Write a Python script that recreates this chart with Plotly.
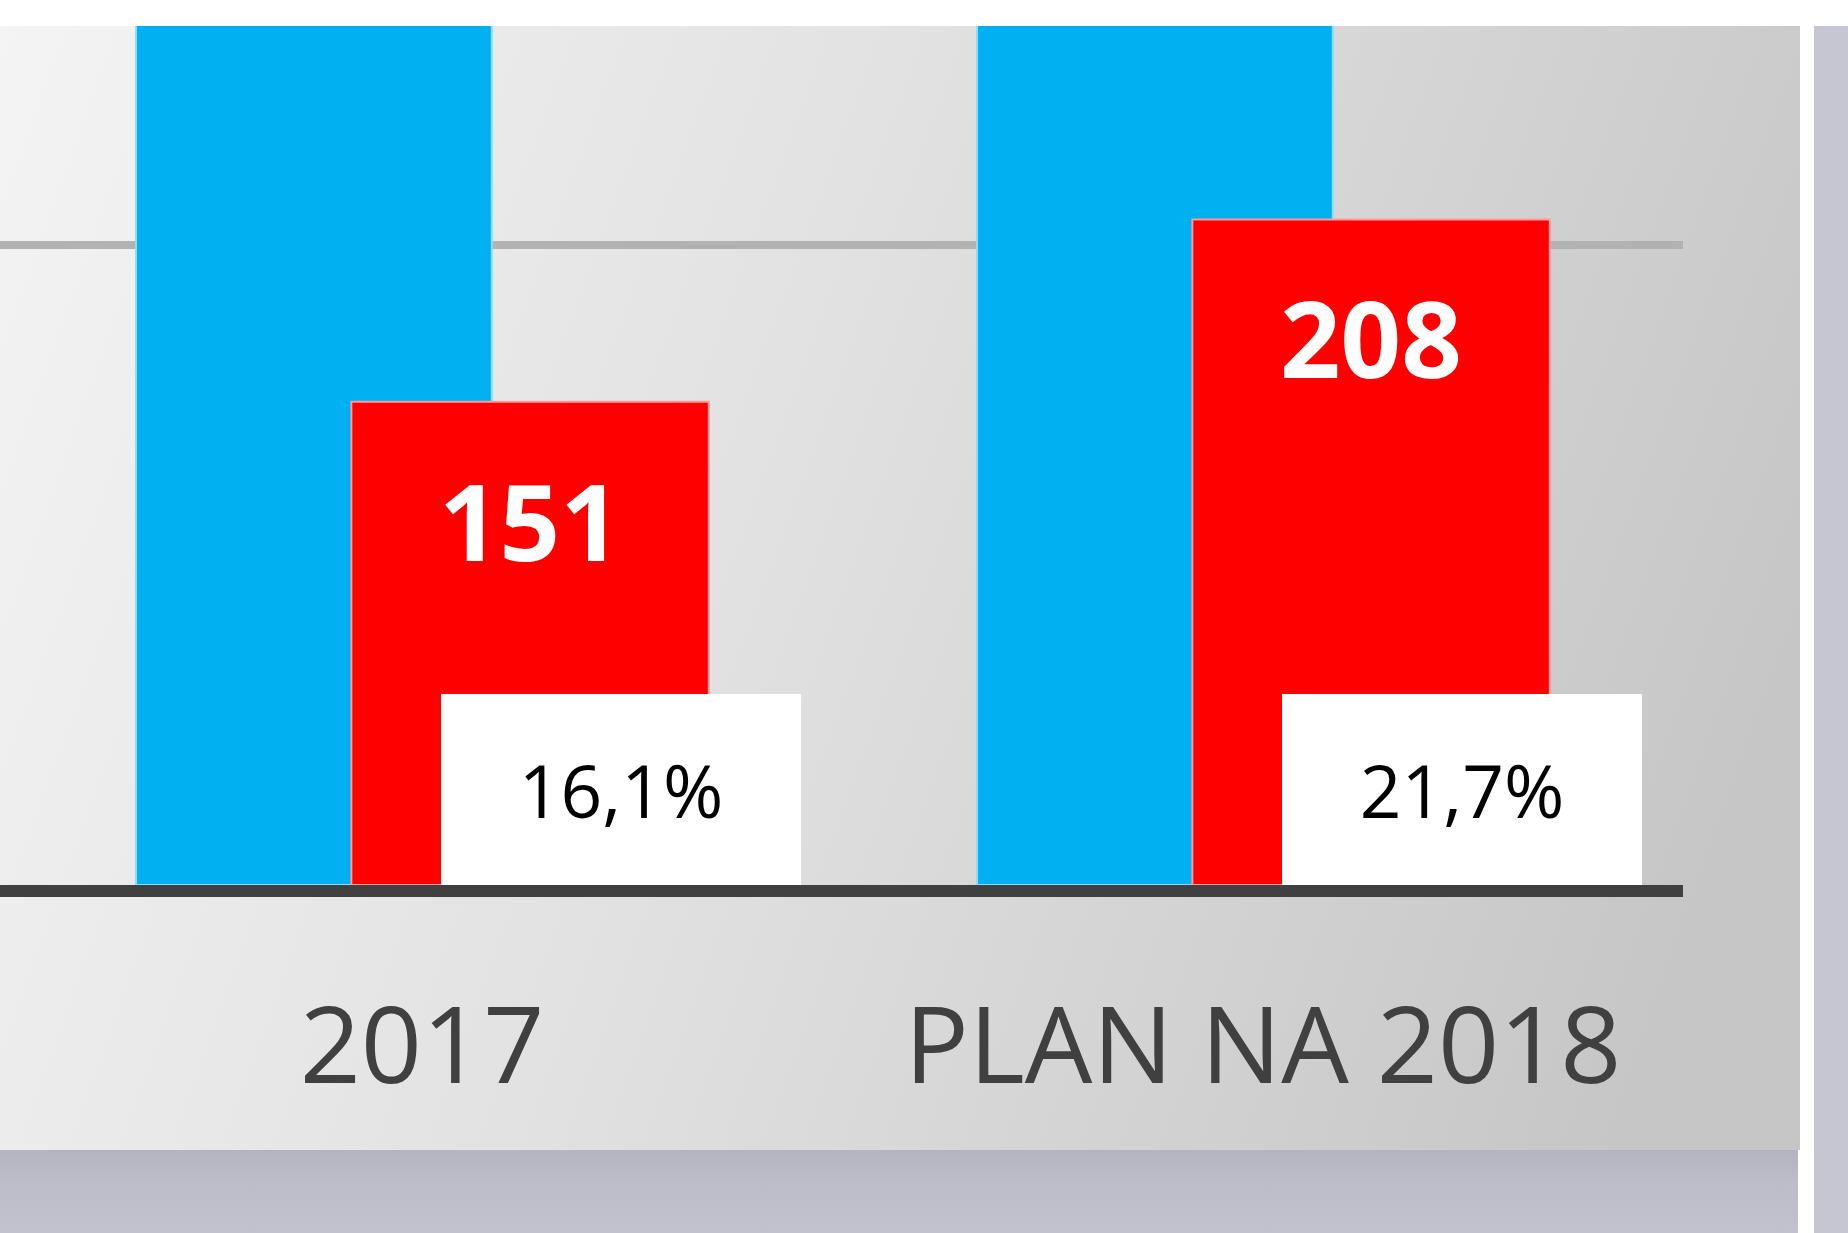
import base64
import plotly.graph_objects as go

# ---------------- data ----------------
categories = ["2017", "PLAN NA 2018"]
total_values = [938, 958]        # blue series (runs far above the visible window)
part_values = [151, 208]         # red series
part_share_pct = [16.1, 21.7]    # red as share of blue
y_grid_step = 200

# ---------------- geometry / style ----------------
W, H = 1848, 1233
ML, MR, MT, MB = 0, 165, 26, 348
PW = W - ML - MR
PH = H - MT - MB
PX_PER_CAT = 841.0
CAT0_PX = 422.0
PX_PER_UNIT = 3.2

x_range = [-CAT0_PX / PX_PER_CAT, (PW - CAT0_PX) / PX_PER_CAT]
y_range = [0, PH / PX_PER_UNIT]

BLUE_OFF, BLUE_W = -0.34, 0.423
RED_OFF, RED_W = -0.084, 0.425
BOX_OFF, BOX_W = 0.023, 0.428

FONT = "Open Sans"

# background (slide + surroundings) as an SVG decoration
svg = f'''<svg xmlns="http://www.w3.org/2000/svg" width="{W}" height="{H}" viewBox="0 0 {W} {H}" preserveAspectRatio="none">
<defs>
<linearGradient id="g" gradientUnits="userSpaceOnUse" x1="0" y1="0" x2="1800" y2="650">
<stop offset="0" stop-color="#f4f4f4"/>
<stop offset="0.45" stop-color="#e2e2e2"/>
<stop offset="1" stop-color="#c6c6c6"/>
</linearGradient>
<linearGradient id="b" gradientUnits="userSpaceOnUse" x1="0" y1="1150" x2="0" y2="1233">
<stop offset="0" stop-color="#b4b4c1"/>
<stop offset="0.4" stop-color="#bdbdca"/>
<stop offset="1" stop-color="#c2c2ce"/>
</linearGradient>
</defs>
<rect x="0" y="0" width="{W}" height="{H}" fill="url(#b)"/>
<rect x="1812" y="0" width="36" height="{H}" fill="#c6c6d2"/>
<rect x="1798" y="0" width="16" height="{H}" fill="#ffffff"/>
<rect x="0" y="0" width="{W}" height="26" fill="#ffffff"/>
<rect x="0" y="26" width="1800" height="1124" fill="url(#g)"/>
</svg>'''
svg_uri = "data:image/svg+xml;base64," + base64.b64encode(svg.encode()).decode()

fig = go.Figure()
fig.add_bar(
    x=categories, y=total_values, offset=BLUE_OFF, width=BLUE_W,
    marker=dict(color="#00b0f0", line=dict(color="#8edcfa", width=2)),
    showlegend=False, hoverinfo="skip",
)
fig.add_bar(
    x=categories, y=part_values, offset=RED_OFF, width=RED_W,
    marker=dict(color="#ff0000", line=dict(color="#ff9a9a", width=2)),
    showlegend=False, hoverinfo="skip",
)

annotations = []
for i, (v, p) in enumerate(zip(part_values, part_share_pct)):
    annotations.append(dict(
        x=i + RED_OFF + RED_W / 2, y=v, xref="x", yref="y",
        yshift=-118, yanchor="middle", xanchor="center",
        text=f"<b>{v}</b>", showarrow=False,
        font=dict(family=FONT, size=106, color="#ffffff"),
    ))
    annotations.append(dict(
        x=i + BOX_OFF + BOX_W / 2, y=0, xref="x", yref="y",
        yanchor="bottom", xanchor="center",
        width=360, height=191, bgcolor="#ffffff", borderpad=0, borderwidth=0,
        text=f"{p:.1f}".replace(".", ",") + "%", showarrow=False,
        font=dict(family=FONT, size=73, color="#000000"),
    ))

fig.update_layout(
    width=W, height=H,
    margin=dict(l=ML, r=MR, t=MT, b=MB, pad=0),
    paper_bgcolor="#c0c0cc",
    plot_bgcolor="rgba(0,0,0,0)",
    barmode="overlay",
    annotations=annotations,
    images=[dict(
        source=svg_uri, xref="paper", yref="paper",
        x=-ML / PW, y=(PH + MT) / PH, sizex=W / PW, sizey=H / PH,
        xanchor="left", yanchor="top", sizing="stretch", layer="below",
    )],
    xaxis=dict(
        range=x_range, showgrid=False, zeroline=False,
        showline=True, linecolor="#404040", linewidth=12,
        ticks="", ticklabelstandoff=58,
        tickfont=dict(family=FONT, size=107, color="#404040"),
    ),
    yaxis=dict(
        range=y_range, dtick=y_grid_step, showticklabels=False,
        showgrid=True, gridcolor="#b2b2b2", gridwidth=8,
        zeroline=False, showline=False, ticks="",
    ),
    font=dict(family=FONT),
)

fig.write_html(
    "out.html",
    config={"displayModeBar": False},
    post_script="document.body.style.margin='0';document.body.style.overflow='hidden';",
)
